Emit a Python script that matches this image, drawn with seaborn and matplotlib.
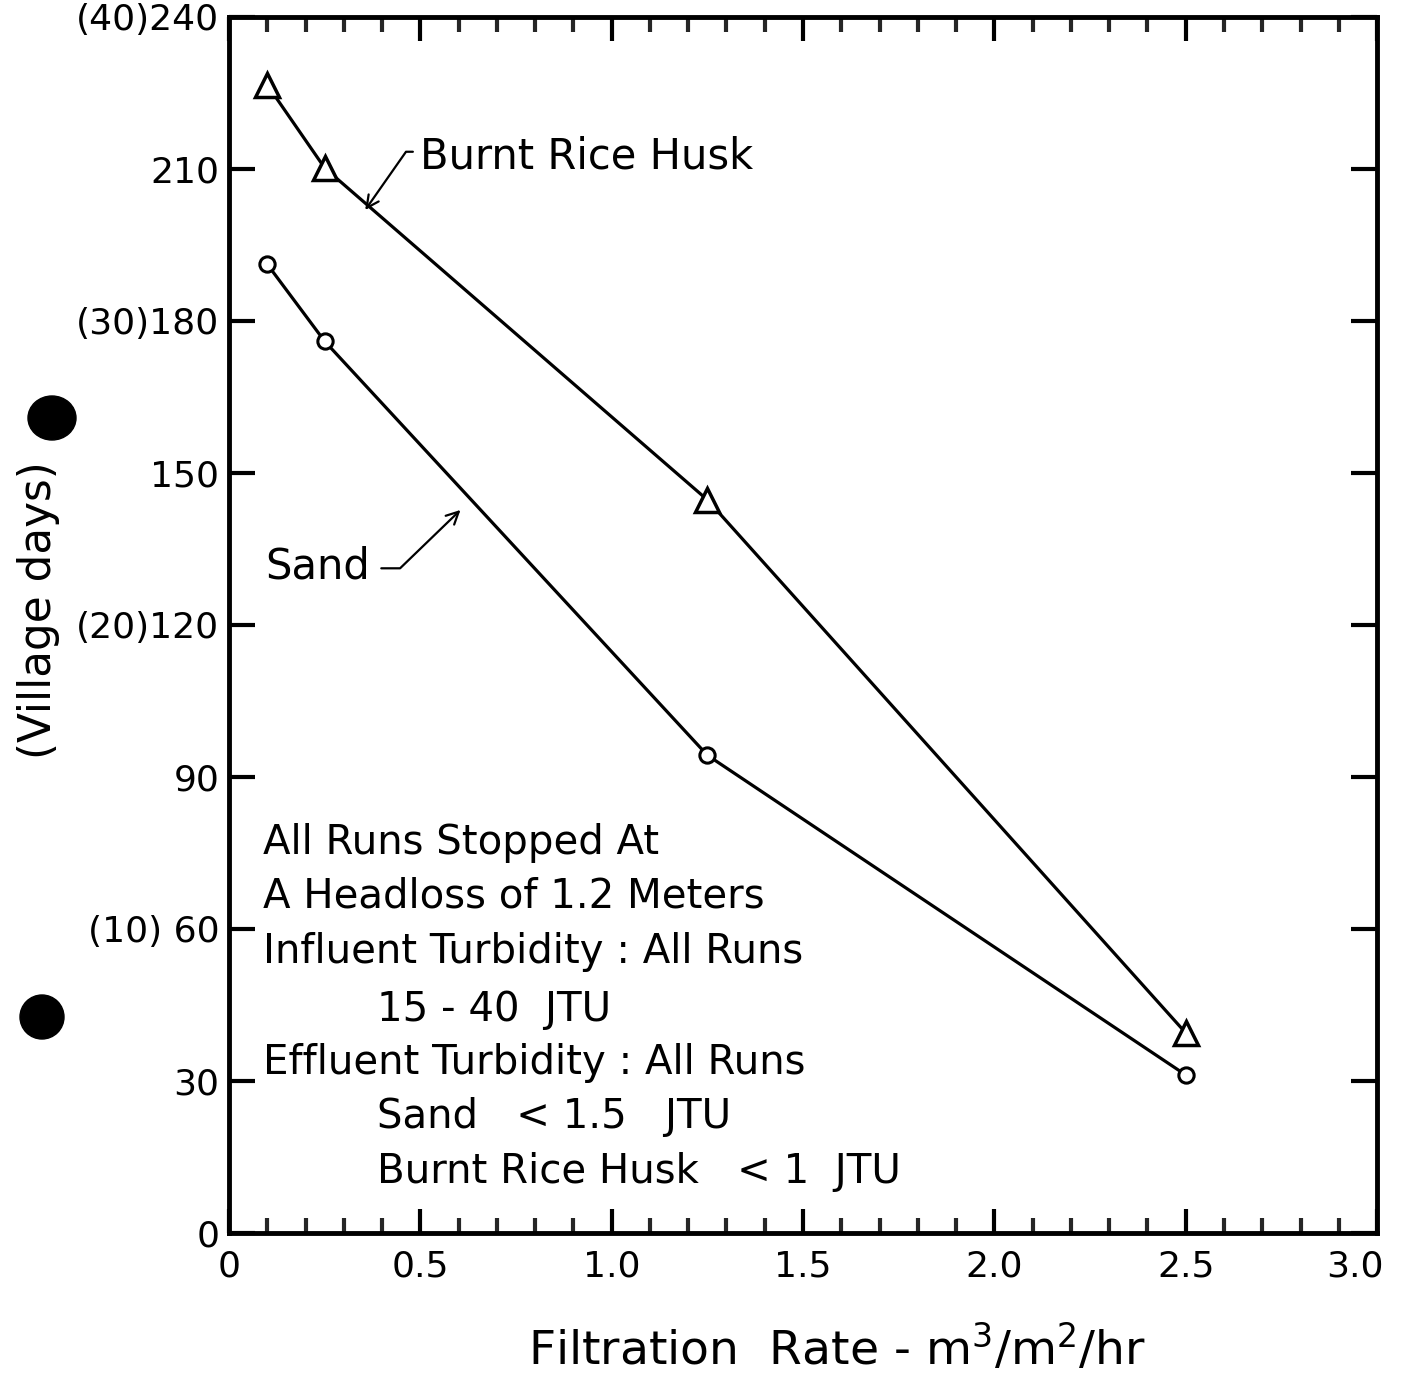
import matplotlib
matplotlib.use("Agg")
import matplotlib.pyplot as plt
from matplotlib.patches import Ellipse
from matplotlib.ticker import MultipleLocator
from matplotlib.transforms import ScaledTranslation
import seaborn as sns
import pandas as pd

# ---- data ----
rate_husk = [0.1, 0.25, 1.25, 2.5]
days_husk = [226.6, 210.2, 144.7, 39.5]
rate_sand = [0.1, 0.25, 1.25, 2.5]
days_sand = [191.2, 176.0, 94.3, 31.2]

y_ticks = [0, 30, 60, 90, 120, 150, 180, 210, 240]
y_tick_labels = ["0", "30", "(10) 60", "90", "(20)120", "150", "(30)180", "210", "(40)240"]
x_ticks = [0, 0.5, 1.0, 1.5, 2.0, 2.5, 3.0]
x_tick_labels = ["0", "0.5", "1.0", "1.5", "2.0", "2.5", "3.0"]

note_lines = [
    "All Runs Stopped At",
    "A Headloss of 1.2 Meters",
    "Influent Turbidity : All Runs",
    "15 - 40  JTU",
    "Effluent Turbidity : All Runs",
    "Sand   < 1.5   JTU",
    "Burnt Rice Husk   < 1  JTU",
]
note_x = [0.089, 0.089, 0.089, 0.387, 0.089, 0.387, 0.387]
note_y = [77.0, 66.5, 55.5, 44.0, 33.6, 22.9, 12.0]

df_husk = pd.DataFrame({"rate": rate_husk, "days": days_husk})
df_sand = pd.DataFrame({"rate": rate_sand, "days": days_sand})

sns.set_theme(style="ticks")
plt.rcParams["font.family"] = ["DejaVu Sans"]

fig = plt.figure(figsize=(14.03, 13.89), dpi=100)
ax = fig.add_axes([0.1632, 0.1123, 0.8183, 0.8755])

sns.lineplot(data=df_husk, x="rate", y="days", ax=ax, color="black", lw=2.3,
             marker="^", markersize=17, markerfacecolor="white",
             markeredgecolor="black", markeredgewidth=2.5)
sns.lineplot(data=df_sand, x="rate", y="days", ax=ax, color="black", lw=2.3,
             marker="o", markersize=11, markerfacecolor="white",
             markeredgecolor="black", markeredgewidth=2.2)

ax.set_xlim(0, 3.0)
ax.set_ylim(0, 240)
ax.set_xticks(x_ticks)
ax.set_xticklabels(x_tick_labels)
ax.set_yticks(y_ticks)
ax.set_yticklabels(y_tick_labels)
ax.xaxis.set_minor_locator(MultipleLocator(0.1))

for s in ax.spines.values():
    s.set_linewidth(3.5)
    s.set_color("black")

ax.tick_params(axis="x", which="major", direction="in", length=17, width=3,
               top=True, bottom=True, labelsize=26, pad=12, colors="black")
ax.tick_params(axis="x", which="minor", direction="in", length=11, width=3,
               top=True, bottom=True)
ax.tick_params(axis="y", which="major", direction="in", length=19, width=3,
               left=True, right=True, labelsize=26, pad=7, colors="black")

# the last x label sits a little left of its tick in the reference
last = ax.get_xticklabels()[-1]
last.set_transform(last.get_transform() + ScaledTranslation(-16 / 72, 0, fig.dpi_scale_trans))

ax.set_xlabel("Filtration  Rate - m$^3$/m$^2$/hr", fontsize=34, color="black")
ax.xaxis.set_label_coords(0.53, -0.074)
ax.set_ylabel("(Village days)", fontsize=31.5, color="black")
ax.yaxis.set_label_coords(-0.147, 0.512)

for t, x, y in zip(note_lines, note_x, note_y):
    ax.text(x, y, t, fontsize=29, ha="left", va="center", color="black")

ax.annotate("Burnt Rice Husk", xy=(0.356, 201.9), xytext=(0.50, 212.4),
            fontsize=30, ha="left", va="center", color="black",
            arrowprops=dict(arrowstyle="->", color="black", lw=1.6,
                            relpos=(0, 0.62), shrinkA=3, shrinkB=0,
                            connectionstyle="angle,angleA=0,angleB=55,rad=0",
                            mutation_scale=22))
ax.annotate("Sand", xy=(0.605, 142.7), xytext=(0.094, 131.6),
            fontsize=30, ha="left", va="center", color="black",
            arrowprops=dict(arrowstyle="->", color="black", lw=1.6,
                            relpos=(1, 0.45), shrinkA=6, shrinkB=0,
                            connectionstyle="angle,angleA=0,angleB=44,rad=0",
                            mutation_scale=22))

# punch holes of the scanned page
fig.patches.append(Ellipse((52 / 1403, 1 - 418 / 1389), 48 / 1403, 44 / 1389,
                           transform=fig.transFigure, color="black"))
fig.patches.append(Ellipse((42 / 1403, 1 - 1017 / 1389), 44 / 1403, 44 / 1389,
                           transform=fig.transFigure, color="black"))

fig.savefig("out.png", dpi=100, facecolor="white")
